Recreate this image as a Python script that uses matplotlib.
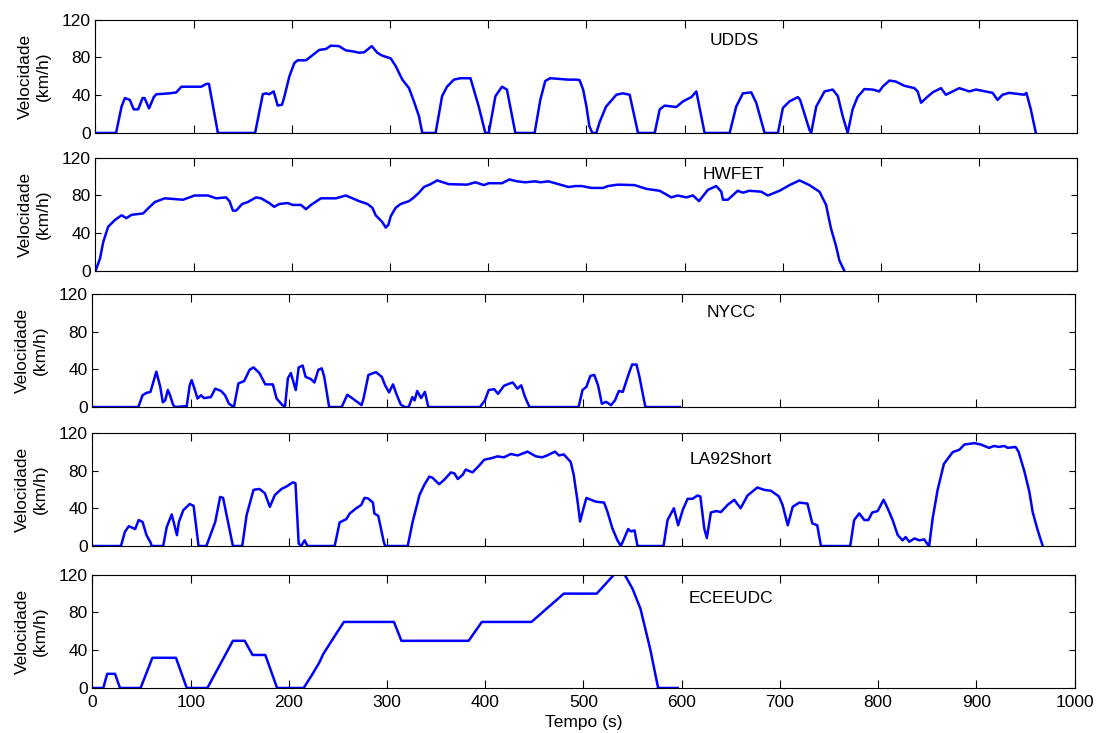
import numpy as np
import matplotlib
matplotlib.use('Agg')
import matplotlib.pyplot as plt

plt.rcParams['font.family'] = ['Liberation Sans', 'DejaVu Sans']

# UDDS
udds_t = [0, 21, 26.6, 30, 35, 39, 43.5, 48, 50, 54.6, 59.4, 62, 75.6, 82.4, 87.5, 96, 102.7, 107.8, 112.9, 115.6,
          124.7, 162.6, 170.4, 173.8, 177, 181.5, 185.6, 190, 192, 197.5, 202.5, 205.9, 214.4, 227.9, 234.7, 239.8,
          248, 255, 261.8, 268.5, 273.6, 281.4, 287, 292, 300.7, 305.7, 312.5, 319.3, 324.3, 329.5, 332.8, 346.4,
          353, 358, 365, 371.7, 381.9, 390.3, 397, 400.5, 407.3, 414, 419, 427.6, 447.2, 453, 458, 463, 481.7, 490,
          493, 496.6, 500, 503, 506, 510, 513.6, 520, 530.5, 537, 544, 552.5, 569.5, 574.6, 579.7, 591.5, 598.3,
          606.8, 611.9, 620.3, 645.8, 652.5, 659.3, 667.8, 672.9, 681.4, 695, 700, 706.8, 715.3, 717.6, 727, 728.8,
          734, 742.4, 750.8, 756, 761, 766, 771, 776, 783, 791.5, 798, 802, 808.5, 815, 823.7, 833.9, 837.3, 840.7,
          845.8, 852.5, 861, 866, 879.7, 889.8, 896.6, 913.6, 918.6, 923.7, 930.5, 945.8, 948, 952.5, 957.6]
udds_v = [0, 0, 28, 37, 35, 25, 25, 37, 37, 26, 38, 41, 42, 43, 49, 49, 49, 49, 52, 52,
          0, 0, 41, 42, 41, 44, 29, 30, 37, 60, 74, 77, 77, 88, 89, 92.5,
          92, 87.5, 86.5, 85, 85.5, 92, 85, 82, 79, 71, 56.5, 47.5, 33.5, 17.5, 0, 0,
          39, 49, 56.5, 58, 58, 28, 0, 0, 39, 49, 46, 0, 0, 35, 55, 58, 56.5, 56.5,
          56, 46, 28, 7, 0, 0, 12, 28, 40.5, 42, 40.5, 0, 0, 25, 29, 27.5, 33.5,
          38, 44, 0, 0, 28, 42, 43, 32, 0, 0, 26.5, 33.5, 38, 35, 3.5, 0,
          28, 44, 46, 39, 17.5, 0, 25, 38, 46.5, 46, 44, 49.5, 55.5, 54.5, 50, 47.5, 44, 32,
          37, 43, 47.5, 40.5, 47.5, 44, 46, 42.5, 35, 40.5, 42.5, 40.5, 42.5, 25, 0]

# HWFET
hwfet_t = [0, 4.6, 8, 13, 19.8, 26.6, 31.6, 36.7, 48.6, 55.3, 60.4, 70.6, 89.2, 101, 114.5, 123, 133, 136.5, 140,
           143.3, 149.4, 155, 163.6, 168.7, 177, 182, 187.3, 195.8, 200.8, 209.3, 214.4, 219.5, 229.6, 244.8, 255,
           261.8, 268.5, 277, 282, 285.4, 292, 295.6, 298.3, 300.7, 305.7, 310.8, 319.3, 324.3, 329.5, 334.5, 341.3,
           348, 359.9, 378.5, 387, 395.4, 400.5, 414, 421.5, 429.3, 437.7, 447.9, 453, 461.4, 475, 481.7, 488.5,
           495.2, 505, 517, 522, 532, 549, 561, 574.6, 586.4, 593, 601.7, 608.5, 614.6, 623.7, 632.2, 637.3, 639,
           644, 654, 659.3, 666, 678, 684.7, 696.6, 706.8, 717, 727, 737.3, 744, 749, 754, 757.6, 762.7]
hwfet_v = [0, 13, 31, 47, 54, 59, 56, 59.5, 61, 68, 73, 77, 75.5, 80, 80, 77, 78, 74, 64,
           64, 71, 73, 78, 77, 72, 68, 71, 72, 70, 70, 65.5, 70, 77, 77, 80,
           77, 74, 71, 67, 59, 52, 46, 49, 58, 67, 71, 74, 78, 83, 89, 92,
           96, 92, 91.5, 94, 91, 93, 93, 97, 95, 94, 95, 94, 95, 91, 89, 90,
           90, 88, 88, 90, 91.5, 91, 87, 85, 78, 80, 78, 80, 74, 86, 90, 84, 75.5,
           75.5, 85, 83, 85, 84, 80, 85, 91, 96, 91, 84, 70, 45, 27, 11, 0]

# NYCC
nycc_t = [0, 46.7, 51, 55, 59, 61, 65, 69, 71.6, 74, 76.7, 79, 82, 84, 96, 99, 101, 104, 107, 110.5, 113.6,
          120.6, 125, 131, 135, 139, 144, 148.6, 154.5, 160, 164, 170, 176, 183.7, 187.5, 193, 196, 199, 202, 207,
          210, 214, 217, 222.6, 226, 230, 233.5, 236, 241, 253.7, 259.5, 265, 274, 276, 281, 288.7, 294.6, 298,
          302, 306, 310, 314, 318, 322, 325.7, 328, 330.7, 334.6, 338.5, 342, 394.5, 399.6, 403.5, 409, 413, 419,
          425, 428, 432.7, 436.6, 440.5, 445, 495, 499, 503, 507, 511, 514.8, 518.7, 523, 528, 532, 536, 540, 546,
          549.5, 554, 557, 563, 598]
nycc_v = [0, 0, 12.5, 15, 16, 23, 37.5, 21.5, 5, 7, 18, 12.5, 2.5, 0, 1, 23, 28.5, 19, 9, 12.5, 9.5,
          10.5, 19.5, 17, 12.5, 3.5, 0, 25, 27.5, 39.5, 42, 36, 24, 24, 9, 2.5, 0, 30.5, 36, 18,
          42, 44, 32, 29.5, 26, 39.5, 41, 32, 0, 0, 13, 9, 2, 9, 34, 37, 32, 23,
          15.5, 24, 12.5, 2.5, 0, 0, 10.5, 7, 17, 9.5, 16, 0, 0, 7, 18, 19, 14, 22.5,
          25, 26, 19.5, 23, 10.5, 0, 0, 18, 21.5, 33, 34, 23, 3.5, 5.5, 2, 7, 17, 16, 35,
          45, 45, 32, 0, 0]

# LA92Short
la92_t = [0, 29, 33, 37, 43.5, 47, 51, 55, 59, 60.4, 72, 75.6, 80.7, 86, 88, 92.5, 99, 103, 108, 116, 125, 130,
          133, 138, 143, 152.5, 157, 164, 170, 175.5, 180.6, 185.7, 192.5, 197.5, 204, 206.7, 210, 212.5, 216,
          219, 246.6, 251.7, 258.5, 262, 268.6, 273.7, 277, 280.5, 285.6, 287, 291, 296.7, 298, 321, 326, 333,
          338, 343, 346, 353, 358, 365, 368.5, 372, 377, 380, 387, 394, 399, 406, 412.5, 419, 426, 433, 443,
          451.5, 458, 463, 471, 475, 480, 487, 490, 494, 496.5, 500, 503, 507.5, 512.6, 521, 524.5, 529.5, 534.6,
          538, 541.4, 545.5, 548, 552, 555, 581.5, 585.6, 592, 596.4, 601, 606, 611, 616, 619, 623, 625.6,
          629.7, 635, 640, 646.7, 653.5, 660, 667, 677, 684, 691, 699, 702.7, 708, 713, 719.7, 728, 733, 738,
          741.8, 771.6, 775.6, 780.8, 786, 790, 794, 799.5, 803, 805.6, 809.7, 814.8, 820, 825, 828, 831.7, 837,
          842, 847, 850.5, 852, 855.5, 860.6, 867, 876, 882.7, 887.8, 898, 904.7, 913, 918, 923, 928.5, 932,
          940, 943, 949, 954, 957.4, 962, 967.6]
la92_v = [0, 0, 15, 21, 18, 27.5, 25.5, 11.5, 4, 0, 0, 20, 33.5, 11.5, 25.5, 38, 44.5, 42.5, 0, 0, 25.5, 52,
          51, 25.5, 0, 0, 33, 59.5, 60.5, 56, 41.5, 54, 60.5, 63, 67.5, 66.5, 2.5, 0, 6,
          0, 0, 25, 28.5, 34.5, 40, 43.5, 51, 50.5, 46, 34.5, 32, 4, 0, 0, 25.5, 54,
          65, 73.5, 72.5, 65.5, 70, 78, 77, 71, 75.5, 81, 78, 85.5, 91.5, 93, 95, 94, 97.5, 96, 100,
          95, 94, 96, 100, 96, 97, 89, 75.5, 47, 26, 40, 51, 49, 47, 46, 36, 18.5, 6,
          0, 8, 18, 15.5, 16.5, 0, 0, 27.5, 40, 22, 38, 50, 50, 53.5, 52.5, 18.5, 8.5,
          35.5, 37, 36, 43.5, 49, 40, 53.5, 62, 59.5, 58.5, 52.5, 43.5, 22, 41.5, 46, 45, 24, 22,
          0, 0, 27.5, 34.5, 27.5, 27.5, 35.5, 37, 44, 49, 40, 27.5, 11.5, 6, 9.5, 4.5, 8,
          6, 7, 1.5, 0, 29, 59.5, 87, 99.5, 102, 107.5, 109, 107.5, 104, 106, 105, 106, 104,
          105, 100, 79, 57.5, 36, 18.5, 0]

# ECE + EUDC
ece_t = [0, 11, 15, 23, 28, 49, 61, 85, 96, 117, 143, 155, 163, 176, 188, 215, 223, 231, 235, 240.5, 246, 256,
         307, 314.6, 383, 396.5, 447, 480, 513.5, 531, 542, 550, 558, 568, 576, 596]
ece_v = [0, 0, 15, 15, 0, 0, 32, 32, 0, 0, 50, 50, 35, 35, 0, 0, 13, 27, 36, 45, 54, 70,
         70, 50, 50, 70, 70, 100, 100, 120, 120, 105, 84, 41, 0, 0]

cycles = [('UDDS', udds_t, udds_v), ('HWFET', hwfet_t, hwfet_v), ('NYCC', nycc_t, nycc_v),
          ('LA92Short', la92_t, la92_v), ('ECEEUDC', ece_t, ece_v)]

fig = plt.figure(figsize=(10.97, 7.33), dpi=100)
bottoms = [0.8186, 0.6303, 0.4447, 0.2551, 0.0614]
lefts = [0.0870, 0.0870, 0.0843, 0.0843, 0.0843]
name_y = [98, 102, 100, 92, 95]
width, height = 0.8952, 0.1545
fs = 12.5

for i, (name, t, v) in enumerate(cycles):
    ax = fig.add_axes([lefts[i], bottoms[i], width, height])
    ax.plot(t, v, color='#0000ff', linewidth=1.8)
    ax.set_xlim(0, 1000)
    ax.set_ylim(0, 120)
    ax.set_xticks(np.arange(0, 1001, 100))
    ax.set_yticks([0, 40, 80, 120])
    ax.tick_params(axis='both', direction='in', top=True, right=True, labelsize=fs)
    ax.tick_params(axis='x', length=6, pad=5)
    ax.tick_params(axis='y', length=4)
    ax.set_ylabel('Velocidade\n(km/h)', fontsize=fs, labelpad=8)
    ax.text(650, name_y[i], name, ha='center', va='center', fontsize=fs)
    if i < len(cycles) - 1:
        ax.set_xticklabels([])
    else:
        ax.set_xlabel('Tempo (s)', fontsize=fs, labelpad=4)

fig.savefig('out.png', dpi=100)
